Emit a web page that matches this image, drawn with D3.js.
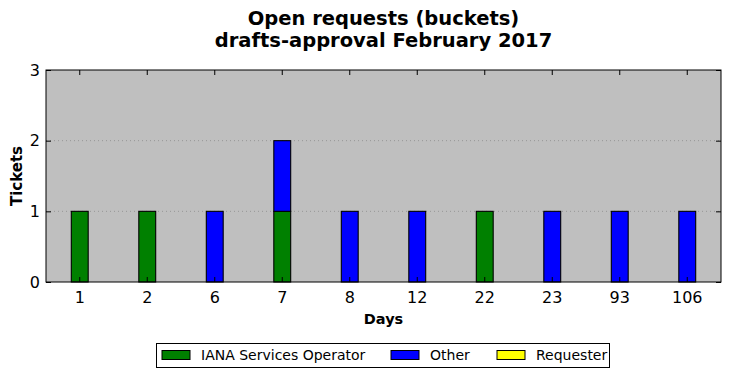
<!DOCTYPE html>
<html>
<head>
<meta charset="utf-8">
<script src="https://cdn.jsdelivr.net/npm/d3@7"></script>
<style>
  body { margin: 0; background: #fff; }
  text { font-family: "DejaVu Sans", sans-serif; }
</style>
</head>
<body>
<svg id="chart" width="730" height="378"></svg>
<script>
// buckets (days open)
const days = ['1', '2', '6', '7', '8', '12', '22', '23', '93', '106'];
const iana = [1, 1, 0, 1, 0, 0, 1, 0, 0, 0];
const other = [0, 0, 1, 1, 1, 1, 0, 1, 1, 1];
const requester = [0, 0, 0, 0, 0, 0, 0, 0, 0, 0];
const yTicks = [0, 1, 2, 3];

const seriesNames = ['IANA Services Operator', 'Other', 'Requester'];
const colors = ['#008000', '#0000ff', '#ffff00'];

const svg = d3.select('#chart');
const margin = {left: 46, right: 9, top: 70, bottom: 96};
const W = 730, H = 378;
const x0 = margin.left, x1 = W - margin.right;
const y0 = H - margin.bottom, y1 = margin.top;

// band scale with half step padding on each side, bar = quarter of step
const x = d3.scaleBand().domain(days).range([x0, x1]).paddingOuter(0).paddingInner(0);
const barW = x.bandwidth() * 0.25;
const y = d3.scaleLinear().domain([0, 3]).range([y0, y1]);

// background
svg.append('rect')
    .attr('x', x0).attr('y', y1)
    .attr('width', x1 - x0).attr('height', y0 - y1)
    .attr('fill', '#bfbfbf');

// grid
svg.append('g').selectAll('line')
    .data(yTicks.slice(1, -1))
    .join('line')
    .attr('x1', x0).attr('x2', x1)
    .attr('y1', d => y(d)).attr('y2', d => y(d))
    .attr('stroke', '#8c8c8c')
    .attr('stroke-width', 0.8)
    .attr('stroke-dasharray', '1,3');

// stacked bars
const rows = days.map((d, i) => ({day: d, iana: iana[i], other: other[i], requester: requester[i]}));
const stack = d3.stack().keys(['iana', 'other', 'requester']);
const layers = stack(rows);

layers.forEach((layer, k) => {
    svg.append('g').selectAll('rect')
        .data(layer.filter(d => d[1] - d[0] > 0))
        .join('rect')
        .attr('x', d => x(d.data.day) + x.bandwidth() / 2 - barW / 2)
        .attr('width', barW)
        .attr('y', d => y(d[1]))
        .attr('height', d => y(d[0]) - y(d[1]))
        .attr('fill', colors[k])
        .attr('stroke', '#000')
        .attr('stroke-width', 1.1);
});

// axes, ticks pointing inward
const xAxis = d3.axisBottom(x).tickSize(-5).tickSizeOuter(0).tickPadding(10);
svg.append('g').attr('transform', `translate(0,${y0})`).call(xAxis)
    .call(g => g.select('.domain').remove())
    .selectAll('text').attr('font-size', 16).attr('fill', '#000');
svg.append('g').attr('transform', `translate(0,${y1})`)
    .call(d3.axisTop(x).tickSize(-5).tickSizeOuter(0).tickFormat(''))
    .call(g => g.select('.domain').remove());

const yAxis = d3.axisLeft(y).tickValues(yTicks).tickFormat(d3.format('d')).tickSize(-5).tickPadding(6);
svg.append('g').attr('transform', `translate(${x0},0)`).call(yAxis)
    .call(g => g.select('.domain').remove())
    .selectAll('text').attr('font-size', 16).attr('fill', '#000');
svg.append('g').attr('transform', `translate(${x1},0)`)
    .call(d3.axisRight(y).tickValues(yTicks).tickSize(-5).tickFormat(''))
    .call(g => g.select('.domain').remove());

svg.selectAll('.tick line').attr('stroke', '#000');

// frame
svg.append('rect')
    .attr('x', x0).attr('y', y1)
    .attr('width', x1 - x0).attr('height', y0 - y1)
    .attr('fill', 'none').attr('stroke', '#000').attr('stroke-width', 1);

// titles
const cx = (x0 + x1) / 2;
svg.append('text').attr('x', cx).attr('y', 25).attr('text-anchor', 'middle')
    .attr('font-size', 19.5).attr('font-weight', 'bold').text('Open requests (buckets)');
svg.append('text').attr('x', cx).attr('y', 47).attr('text-anchor', 'middle')
    .attr('font-size', 19.5).attr('font-weight', 'bold').text('drafts-approval February 2017');

svg.append('text').attr('x', cx).attr('y', 324).attr('text-anchor', 'middle')
    .attr('font-size', 14.5).attr('font-weight', 'bold').text('Days');
svg.append('text')
    .attr('transform', `translate(22,${(y0 + y1) / 2}) rotate(-90)`)
    .attr('text-anchor', 'middle')
    .attr('font-size', 15).attr('font-weight', 'bold').text('Tickets');

// legend
const legend = svg.append('g');
legend.append('rect')
    .attr('x', 156.5).attr('y', 343.5).attr('width', 453).attr('height', 24)
    .attr('fill', '#fff').attr('stroke', '#000').attr('stroke-width', 1);
const legX = [162, 391, 497];
seriesNames.forEach((name, i) => {
    legend.append('rect')
        .attr('x', legX[i]).attr('y', 350.5).attr('width', 28).attr('height', 9)
        .attr('fill', colors[i]).attr('stroke', '#000').attr('stroke-width', 1);
    legend.append('text')
        .attr('x', legX[i] + 39).attr('y', 360)
        .attr('font-size', 14).text(name);
});
</script>
</body>
</html>
